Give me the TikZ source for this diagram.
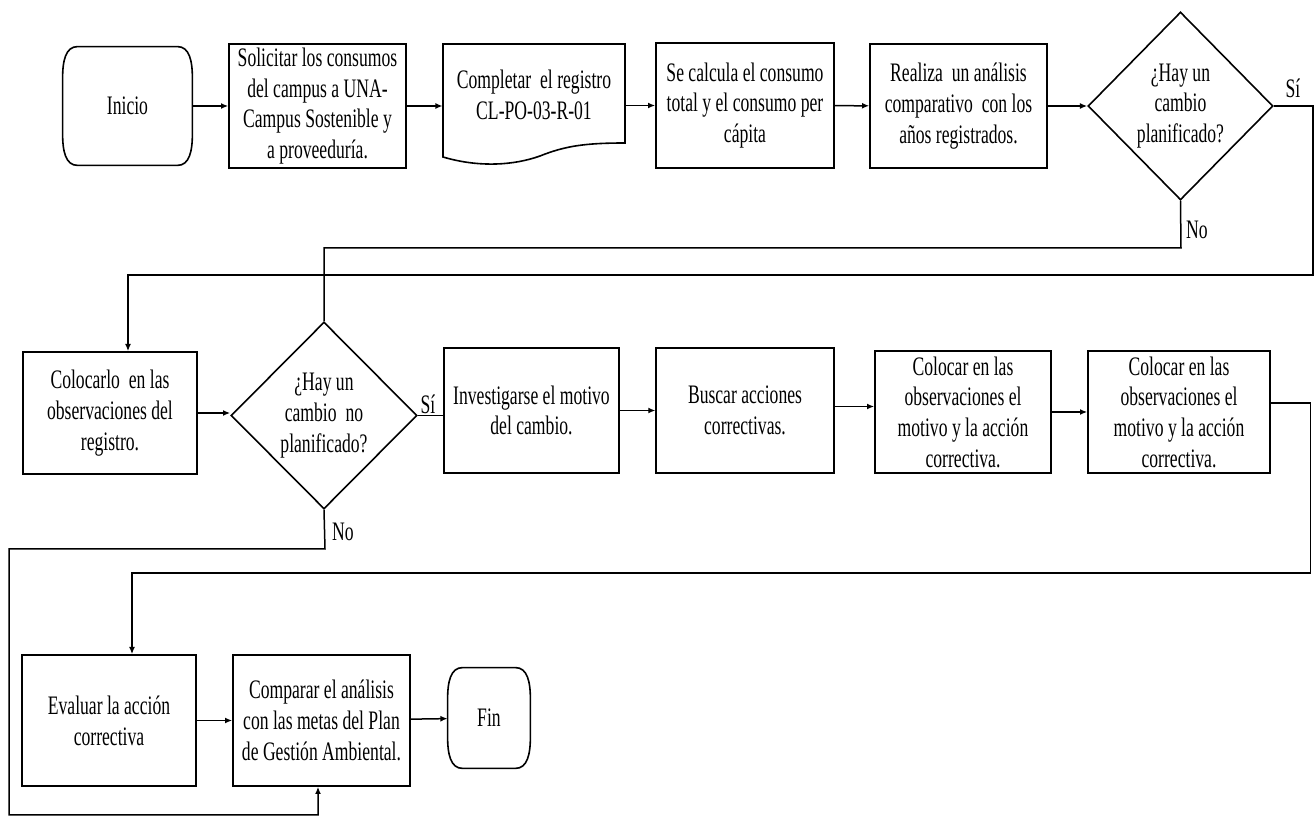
\documentclass[tikz,border=0pt]{standalone}
\usepackage{fontspec}
\setmainfont[FakeStretch=0.66]{Liberation Serif}
\usetikzlibrary{shapes.geometric,arrows.meta,calc}

% outline of a start/end terminal: flat top and bottom, bulging sides
\newcommand\termoutline[1]{%
  \draw[line width=0.8pt]
    ($(#1.north west)+(15,0)$) -- ($(#1.north east)+(-15,0)$)
    .. controls ($(#1.north east)+(-3,0)$) and ($(#1.north east)+(0,14)$) .. ($(#1.north east)+(0,32)$)
    -- ($(#1.south east)+(0,-32)$)
    .. controls ($(#1.south east)+(0,-14)$) and ($(#1.south east)+(-3,0)$) .. ($(#1.south east)+(-15,0)$)
    -- ($(#1.south west)+(15,0)$)
    .. controls ($(#1.south west)+(3,0)$) and ($(#1.south west)+(0,-14)$) .. ($(#1.south west)+(0,-32)$)
    -- ($(#1.north west)+(0,32)$)
    .. controls ($(#1.north west)+(0,14)$) and ($(#1.north west)+(3,0)$) .. cycle;}

\begin{document}
\begin{tikzpicture}[x=0.5pt,y=-0.5pt,
  every node/.style={font=\fontsize{13.35pt}{15.35pt}\selectfont},
  proc/.style 2 args={draw, line width=0.8pt, rectangle, align=center, inner sep=0pt,
    minimum width=#1*0.5pt, minimum height=#2*0.5pt},
  term/.style 2 args={rectangle, align=center, inner sep=0pt,
    minimum width=#1*0.5pt, minimum height=#2*0.5pt},
  decide/.style 2 args={draw, line width=0.8pt, diamond, align=center, inner sep=0pt,
    aspect=1, minimum width=#1*0.5pt, minimum height=#2*0.5pt},
  doctext/.style 2 args={rectangle, align=center, inner sep=0pt,
    minimum width=#1*0.5pt, minimum height=#2*0.5pt},
  link/.style={line width=0.75pt},
  arr/.style={link, -{Latex[length=3.6pt,width=3pt]}},
  tag/.style={inner sep=0pt}
]
\fill[white] (0,0) rectangle (1314,823);
\useasboundingbox (0,0) rectangle (1314,823);

% ---- first row
\node[term={129}{118}] (inicio) at (127.5,106) {Inicio};
\termoutline{inicio}
\node[proc={177}{124}] (solicitar) at (317.5,106)
  {Solicitar los consumos\\del campus a UNA-\\Campus Sostenible y\\a proveeduría.};
\node[doctext={182}{102}] (completar) at (534,95)
  {Completar\, el registro\\CL-PO-03-R-01};
\draw[line width=0.8pt] (443,44) -- (625,44) -- (625,143)
  .. controls (585,143) and (565,146) .. (540,156)
  .. controls (515,165) and (480,168) .. (443,157) -- cycle;
\node[proc={178}{125}] (calc) at (745,105.5)
  {Se calcula el consumo\\total y el consumo per\\cápita};
\node[proc={177}{124}] (realiza) at (958.5,106)
  {Realiza\, un análisis\\comparativo\, con los\\años registrados.};
\node[decide={185}{188}] (d1) at (1180.5,106)
  {¿Hay un\\cambio\\planificado?};

% ---- second row
\node[proc={174}{122}] (colocarlo) at (110,413)
  {Colocarlo\, en las\\observaciones del\\registro.};
\node[decide={186}{187}] (d2) at (324,415.5)
  {¿Hay un\\cambio\, no\\planificado?};
\node[proc={175}{125}] (investigar) at (531.5,410.5)
  {Investigarse el motivo\\del cambio.};
\node[proc={177.5}{125}] (buscar) at (745,410.5)
  {Buscar acciones\\correctivas.};
\node[proc={176}{122}] (colocarA) at (963,412)
  {Colocar en las\\observaciones el\\motivo y la acción\\correctiva.};
\node[proc={182}{122}] (colocarB) at (1179,412)
  {Colocar en las\\observaciones el\\motivo y la acción\\correctiva.};

% ---- third row
\node[proc={173.5}{131}] (evaluar) at (109,720.5)
  {Evaluar la acción\\correctiva};
\node[proc={177}{131}] (comparar) at (321.5,720.5)
  {Comparar el análisis\\con las metas del Plan\\de Gestión Ambiental.};
\node[term={82}{100}] (fin) at (489,718) {Fin};
\termoutline{fin}

% ---- branch labels
\node[tag] (siA) at (1293,88) {Sí};
\node[tag] (noA) at (1197,230) {No};
\node[tag] (siB) at (428,404) {Sí};
\node[tag] (noB) at (343,532) {No};

% ---- routing points
\coordinate (siRa) at (1313,275);
\coordinate (siLa) at (128,275);
\coordinate (noDa) at (1181,248);
\coordinate (corrR) at (1310.5,573);
\coordinate (corrL) at (132,573);
\coordinate (noDb) at (325,549);
\coordinate (noLb) at (9,549);
\coordinate (noBot) at (9,815);
\coordinate (noUp) at (318,815);

% ---- connectors
\draw[arr] (inicio) -- (solicitar);
\draw[arr] (solicitar.east) -- (solicitar.east -| completar.west);
\draw[arr] (calc.west -| completar.east) -- (calc.west);
\draw[arr] (calc) -- (realiza);
\draw[arr] (realiza) -- (d1);
\draw[arr] (d1.east) -| (siRa) -- (siLa) -- (siLa |- colocarlo.north);
\draw[link] (d1.south) -- (noDa) -| (d2.north);
\draw[arr] (colocarlo.east) -- (colocarlo.east -| d2.west);
\draw[link] (d2.east) -- (d2.east -| investigar.west);
\draw[arr] (investigar) -- (buscar);
\draw[arr] ([yshift=2pt]buscar.east) -- ([yshift=2pt]buscar.east -| colocarA.west);
\draw[arr] (colocarA) -- (colocarB);
\draw[arr] ([yshift=4.5pt]colocarB.east) -| (corrR) -- (corrL) -- (corrL |- evaluar.north);
\draw[arr] (d2.south) -- (noDb) -- (noLb) -- (noBot) -- (noUp) -- (noUp |- comparar.south);
\draw[arr] (evaluar) -- (comparar);
\draw[arr] (comparar) -- (fin);
\end{tikzpicture}
\end{document}
